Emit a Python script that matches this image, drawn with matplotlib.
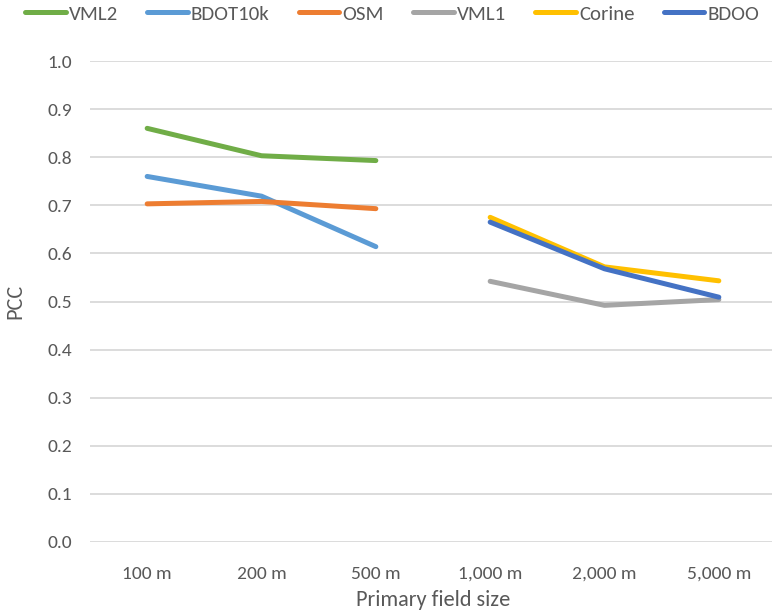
import numpy as np
import matplotlib
matplotlib.use('Agg')
import matplotlib.pyplot as plt

plt.rcParams['font.family'] = ['Carlito', 'DejaVu Sans']

# Dane
kategorie = ["100 m", "200 m", "500 m", "1,000 m", "2,000 m", "5,000 m"]
nan = np.nan
vml2 = [0.860, 0.803, 0.793, nan, nan, nan]
bdot10k = [0.760, 0.719, 0.614, nan, nan, nan]
osm = [0.703, 0.708, 0.693, nan, nan, nan]
vml1 = [nan, nan, nan, 0.542, 0.492, 0.504]
corine = [nan, nan, nan, 0.675, 0.572, 0.543]
bdoo = [nan, nan, nan, 0.665, 0.568, 0.509]

serie = [
    ("VML2", vml2, "#70AD47"),
    ("BDOT10k", bdot10k, "#5B9BD5"),
    ("OSM", osm, "#ED7D31"),
    ("VML1", vml1, "#A5A5A5"),
    ("Corine", corine, "#FFC000"),
    ("BDOO", bdoo, "#4472C4"),
]
kolor_tekstu = '#595959'

fig = plt.figure(figsize=(7.72, 6.14), dpi=100)
ax = fig.add_axes([90 / 772, 1 - 542 / 614, 686 / 772, 481 / 614])

x = np.arange(len(kategorie))
for nazwa, y, kolor in serie:
    ax.plot(x, y, color=kolor, lw=3.6, label=nazwa, solid_capstyle='round')

ax.set_xlim(-0.5, 5.5)
ax.set_ylim(0, 1.0)
yt = np.arange(0, 1.01, 0.1)
ax.set_yticks(yt)
ax.set_yticklabels([f"{v:.1f}" for v in yt])
ax.set_xticks(x)
ax.set_xticklabels(kategorie)
ax.grid(axis='y', color='#D9D9D9', lw=1.3)
ax.set_axisbelow(True)
for s in ax.spines.values():
    s.set_visible(False)
ax.tick_params(length=0, labelsize=14, colors=kolor_tekstu)
ax.tick_params(axis='x', pad=17)
ax.tick_params(axis='y', pad=13)

ax.set_xlabel("Primary field size", fontsize=16, color=kolor_tekstu, labelpad=6)
ax.set_ylabel("PCC", fontsize=16, color=kolor_tekstu, labelpad=16)

fig.legend(loc='center', bbox_to_anchor=(0.508, 1 - 14 / 614), ncol=6, frameon=False,
           fontsize=15, handlelength=1.95, handletextpad=0.15, columnspacing=1.4,
           borderpad=0, labelcolor=kolor_tekstu)

plt.savefig("out.png", dpi=100)
